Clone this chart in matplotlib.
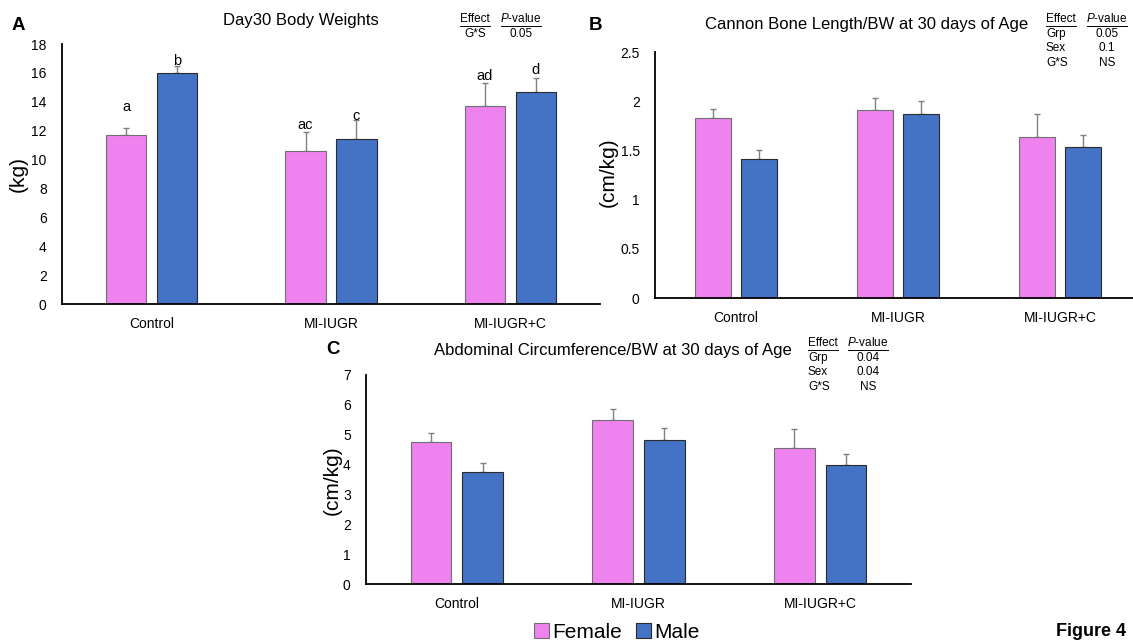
import matplotlib
matplotlib.use("Agg")
import matplotlib.pyplot as plt
import numpy as np
from matplotlib.lines import Line2D

plt.rcParams['font.family'] = ['Liberation Sans', 'DejaVu Sans']
plt.rcParams['mathtext.fontset'] = 'custom'
plt.rcParams['mathtext.rm'] = 'Liberation Sans'
plt.rcParams['mathtext.it'] = 'Liberation Sans:italic'

# ---------------- data ----------------
groups = ["Control", "MI-IUGR", "MI-IUGR+C"]
sexes = ["Female", "Male"]

bw_female = [11.7, 10.6, 13.7]
bw_female_err = [0.5, 1.3, 1.6]
bw_male = [16.0, 11.45, 14.7]
bw_male_err = [0.5, 1.3, 0.95]
bw_letters_female = ["a", "ac", "ad"]
bw_letters_male = ["b", "c", "d"]

cb_female = [1.83, 1.91, 1.64]
cb_female_err = [0.09, 0.12, 0.23]
cb_male = [1.41, 1.87, 1.535]
cb_male_err = [0.09, 0.13, 0.12]

ac_female = [4.77, 5.50, 4.54]
ac_female_err = [0.30, 0.37, 0.66]
ac_male = [3.76, 4.82, 3.97]
ac_male_err = [0.30, 0.39, 0.37]

a_yticks = [0, 2, 4, 6, 8, 10, 12, 14, 16, 18]
b_yticks = [0, 0.5, 1, 1.5, 2, 2.5]
b_yticklabels = ["0", "0.5", "1", "1.5", "2", "2.5"]
c_yticks = [0, 1, 2, 3, 4, 5, 6, 7]

a_stats = [("G*S", "0.05")]
b_stats = [("Grp", "0.05"), ("Sex", "0.1"), ("G*S", "NS")]
c_stats = [("Grp", "0.04"), ("Sex", "0.04"), ("G*S", "NS")]

# ---------------- style ----------------
PINK = "#EE82EE"
BLUE = "#4472C4"
W, H = 1133, 641

fig = plt.figure(figsize=(W / 100, H / 100), dpi=100)


def fx(px):
    return px / W


def fy(py):
    return 1 - py / H


def make_axes(left, right, top, bottom):
    return fig.add_axes([fx(left), fy(bottom), fx(right - left), (bottom - top) / H])


def draw_panel(ax, fem, fem_err, mal, mal_err, yticks, ylim, yticklabels=None):
    x = np.arange(len(groups))
    off, bw = 0.142, 0.225
    bf = ax.bar(x - off, fem, bw, color=PINK, edgecolor="#707070", linewidth=0.8,
                label=sexes[0], zorder=2)
    bm = ax.bar(x + off, mal, bw, color=BLUE, edgecolor="#2b2b2b", linewidth=0.8,
                label=sexes[1], zorder=2)
    ax.errorbar(x - off, fem, yerr=[np.zeros(len(fem)), fem_err], fmt="none",
                ecolor="#808080", elinewidth=1, capsize=2.5, capthick=1, zorder=1)
    ax.errorbar(x + off, mal, yerr=[np.zeros(len(mal)), mal_err], fmt="none",
                ecolor="#808080", elinewidth=1, capsize=2.5, capthick=1, zorder=1)
    ax.set_xlim(-0.5, 2.5)
    ax.set_ylim(*ylim)
    ax.set_yticks(yticks)
    if yticklabels is not None:
        ax.set_yticklabels(yticklabels)
    ax.set_xticks(x)
    ax.set_xticklabels(groups)
    ax.tick_params(axis="both", length=0, labelsize=10)
    ax.tick_params(axis="y", pad=11)
    ax.tick_params(axis="x", pad=9)
    for s in ("top", "right"):
        ax.spines[s].set_visible(False)
    for s in ("left", "bottom"):
        ax.spines[s].set_linewidth(1.3)
        ax.spines[s].set_color("black")
    return bf, bm


def stats_block(x_eff, x_p, ys, rows, eff_ha, ul_y, eff_w, p_w):
    fs = 8.5
    fig.text(fx(x_eff), fy(ys[0]), "Effect", fontsize=fs, ha=eff_ha, va="center")
    fig.text(fx(x_p), fy(ys[0]), r"$\mathit{P}$-value", fontsize=fs, ha="center", va="center")
    e0 = x_eff - eff_w / 2 if eff_ha == "center" else x_eff
    fig.add_artist(Line2D([fx(e0), fx(e0 + eff_w)], [fy(ul_y), fy(ul_y)], color="black", lw=0.7))
    fig.add_artist(Line2D([fx(x_p - p_w / 2), fx(x_p + p_w / 2)], [fy(ul_y), fy(ul_y)],
                          color="black", lw=0.7))
    for (name, val), yy in zip(rows, ys[1:]):
        fig.text(fx(x_eff), fy(yy), name, fontsize=fs, ha=eff_ha, va="center")
        fig.text(fx(x_p), fy(yy), val, fontsize=fs, ha="center", va="center")


# ---------------- panel A ----------------
axA = make_axes(62, 600, 44, 304)
bfA, bmA = draw_panel(axA, bw_female, bw_female_err, bw_male, bw_male_err, a_yticks, (0, 18))
axA.set_ylabel("(kg)", fontsize=15, va="center")
axA.yaxis.set_label_coords(fx(18), fy(174), transform=fig.transFigure)
fig.text(fx(301), fy(20), "Day30 Body Weights", fontsize=12, ha="center", va="center")
fig.text(fx(18), fy(25), "A", fontsize=13.5, fontweight="bold", ha="center", va="center")
stats_block(475, 521, [19, 34], a_stats, "center", 25.5, 30, 40)
xA = np.arange(len(groups))
letter_gap_f = [1.45, 0.5, 0.5]
letter_gap_m = [0.3, 0.3, 0.55]
for i in range(len(groups)):
    axA.text(xA[i] - 0.142, bw_female[i] + bw_female_err[i] + letter_gap_f[i], bw_letters_female[i],
             fontsize=10.5, ha="center", va="center")
    axA.text(xA[i] + 0.142, bw_male[i] + bw_male_err[i] + letter_gap_m[i], bw_letters_male[i],
             fontsize=10.5, ha="center", va="center")

# ---------------- panel B ----------------
axB = make_axes(655, 1141, 52, 298)
draw_panel(axB, cb_female, cb_female_err, cb_male, cb_male_err, b_yticks, (0, 2.5), b_yticklabels)
axB.set_ylabel("(cm/kg)", fontsize=15, va="center")
axB.yaxis.set_label_coords(fx(608), fy(172), transform=fig.transFigure)
fig.text(fx(867), fy(25), "Cannon Bone Length/BW at 30 days of Age", fontsize=12,
         ha="center", va="center")
fig.text(fx(595), fy(25), "B", fontsize=13.5, fontweight="bold", ha="center", va="center")
stats_block(1046, 1107, [19, 34, 48, 63], b_stats, "left", 25.5, 30, 40)

# ---------------- panel C ----------------
axC = make_axes(366, 911, 375, 584)
bfC, bmC = draw_panel(axC, ac_female, ac_female_err, ac_male, ac_male_err, c_yticks, (0, 7))
axC.set_ylabel("(cm/kg)", fontsize=15, va="center")
axC.yaxis.set_label_coords(fx(332), fy(480), transform=fig.transFigure)
fig.text(fx(613), fy(350), "Abdominal Circumference/BW at 30 days of Age", fontsize=12,
         ha="center", va="center")
fig.text(fx(333), fy(350), "C", fontsize=13.5, fontweight="bold", ha="center", va="center")
stats_block(808, 868, [343, 358, 372, 387], c_stats, "left", 349.5, 30, 40)

fig.legend([bfC, bmC], sexes, loc="center", bbox_to_anchor=(fx(617), fy(632)), ncol=2,
           frameon=False, fontsize=15, handlelength=0.7, handleheight=0.7,
           handletextpad=0.15, columnspacing=0.7, borderaxespad=0, borderpad=0)

fig.text(fx(1056), fy(640), "Figure 4", fontsize=13, fontweight="bold", ha="left", va="bottom")

fig.savefig("out.png", dpi=100)
